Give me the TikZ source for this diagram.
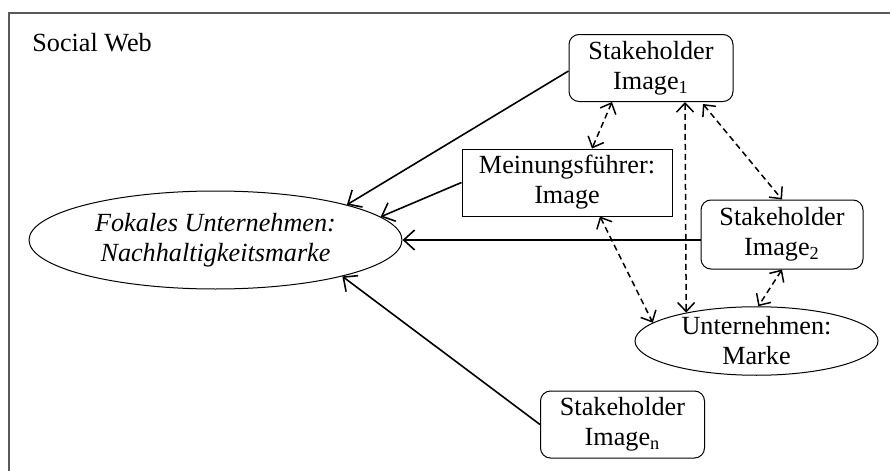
\documentclass[tikz,border=0pt]{standalone}
\usepackage{fontspec}
\setmainfont{Liberation Serif}
\usetikzlibrary{shapes.geometric,arrows.meta,calc}

\tikzset{
  every node/.style={font=\fontsize{13.1}{15}\selectfont, align=center, inner sep=0pt},
  holder/.style={draw, rounded corners=5pt, line width=0.5pt, minimum width=82pt, minimum height=33.5pt},
  leader/.style={draw, line width=0.5pt, minimum width=105pt, minimum height=33.5pt},
  brand/.style={draw, ellipse, line width=0.5pt},
  flow/.style={line width=0.8pt, -{Straight Barb[length=5.5pt,width=10pt,line width=0.8pt]}},
  mutual/.style={line width=0.75pt, dash pattern=on 3pt off 2pt,
    {Straight Barb[length=4.5pt,width=8.5pt,line width=0.75pt]}-{Straight Barb[length=4.5pt,width=8.5pt,line width=0.75pt]}},
  frame/.style={draw=black!65, line width=0.8pt}
}

\begin{document}
\begin{tikzpicture}[x=0.5pt, y=-0.5pt]
  \useasboundingbox (0,0) rectangle (890,471);
  \begin{scope}
    \clip (0,0) rectangle (890,471);
    \draw[frame] (9,13) rectangle (900,490);
  \end{scope}

  \node[anchor=base west] (title) at (32,52) {Social Web};

  % nodes
  \node[holder] (img1) at (651,68) {Stakeholder\\Image\textsubscript{1}};
  \node[leader] (mein) at (567,182.5) {Meinungsführer:\\Image};
  \node[holder, minimum height=34.5pt, minimum width=81pt] (img2) at (782,234.5) {Stakeholder\\Image\textsubscript{2}};
  \node[holder] (imgn) at (622.5,424.5) {Stakeholder\\Image\textsubscript{n}};
  \node[brand, minimum width=186.5pt, minimum height=49pt] (fok) at (215.5,240)
       {\itshape Fokales Unternehmen:\\\itshape Nachhaltigkeitsmarke};
  \node[brand, minimum width=121.5pt, minimum height=33.5pt] (unt) at (756.5,341) {Unternehmen:\\Marke};

  % influence on the focal brand
  \draw[flow] ([yshift=-1.5pt]img1.west) -- (fok.15);
  \draw[flow] (mein.west) -- (fok.8.5);
  \draw[flow] (img2.west |- fok.east) -- (fok.east);
  \draw[flow] (imgn.west) -- (fok.-16);

  % mutual relations
  \draw[mutual] ([xshift=-19.5pt]img1.south) -- ([xshift=12.5pt]mein.north);
  \draw[mutual] ([xshift=17pt]img1.south) -- (unt.158);
  \draw[mutual] ([xshift=26pt,yshift=-1pt]img1.south) -- (img2.north);
  \draw[mutual] ([xshift=16.5pt]mein.south) -- (unt.170);
  \draw[mutual] (img2.south) -- (unt.87);
\end{tikzpicture}
\end{document}
